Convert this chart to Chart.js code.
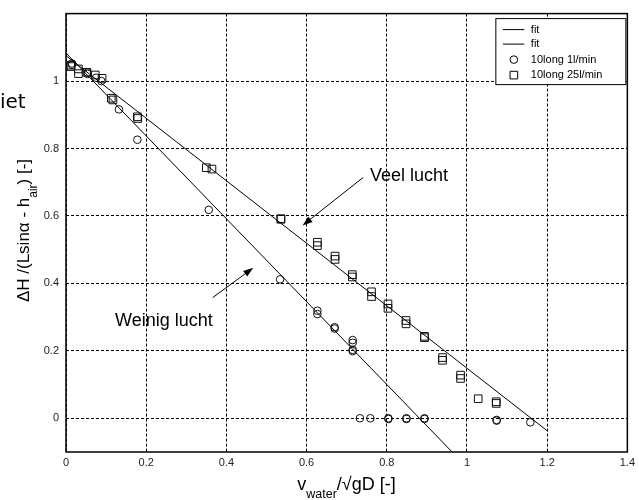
<!DOCTYPE html>
<html>
<head>
<meta charset="utf-8">
<script src="https://cdn.jsdelivr.net/npm/chart.js@4"></script>
<style>
  body { margin: 0; background: #fff; }
  canvas { display: block; }
</style>
</head>
<body>
<canvas id="myChart" width="639" height="500"></canvas>
<script>
// values
var xTicks = [0, 0.2, 0.4, 0.6, 0.8, 1, 1.2, 1.4];
var yTicks = [0, 0.2, 0.4, 0.6, 0.8, 1];

var fitVeelX = [0, 1.2];
var fitVeelY = [1.075, -0.037];
var fitWeinigX = [0, 0.963];
var fitWeinigY = [1.083, -0.1];

var circleX = [0.015, 0.015, 0.054, 0.054, 0.075, 0.088, 0.132, 0.178, 0.356, 0.534,
               0.627, 0.627, 0.670, 0.670, 0.715, 0.715, 0.715, 0.715, 0.733, 0.759,
               0.804, 0.804, 0.849, 0.849, 0.894, 0.894, 1.074, 1.074, 1.158];
var circleY = [1.052, 1.048, 1.025, 1.021, 1.010, 1.000, 0.916, 0.826, 0.618, 0.412,
               0.319, 0.309, 0.270, 0.266, 0.232, 0.224, 0.203, 0.199, 0, 0,
               0, -0.002, 0, -0.002, 0, -0.002, -0.007, -0.005, -0.012];

var squareX = [0.012, 0.012, 0.031, 0.031, 0.052, 0.073, 0.090, 0.113, 0.117, 0.178,
               0.179, 0.350, 0.364, 0.536, 0.536, 0.627, 0.627, 0.671, 0.671, 0.714,
               0.714, 0.762, 0.762, 0.803, 0.803, 0.848, 0.848, 0.894, 0.894, 0.939,
               0.939, 0.984, 0.984, 1.028, 1.073, 1.073];
var squareY = [1.047, 1.043, 1.036, 1.022, 1.026, 1.018, 1.008, 0.949, 0.944, 0.894,
               0.889, 0.743, 0.739, 0.592, 0.590, 0.522, 0.512, 0.481, 0.471, 0.426,
               0.419, 0.375, 0.361, 0.339, 0.326, 0.290, 0.280, 0.243, 0.239, 0.180,
               0.172, 0.128, 0.118, 0.058, 0.049, 0.044];

function pts(xs, ys) {
  return xs.map(function (v, i) { return {x: v, y: ys[i]}; });
}

var FONT = "'Liberation Sans', Arial, sans-serif";

function arrow(ctx, x0, y0, x1, y1) {
  var ang = Math.atan2(y1 - y0, x1 - x0);
  var len = 10, hw = 3.5;
  ctx.beginPath();
  ctx.moveTo(x0, y0);
  ctx.lineTo(x1 - Math.cos(ang) * len * 0.8, y1 - Math.sin(ang) * len * 0.8);
  ctx.stroke();
  ctx.beginPath();
  ctx.moveTo(x1, y1);
  ctx.lineTo(x1 - Math.cos(ang) * len - Math.sin(ang) * hw, y1 - Math.sin(ang) * len + Math.cos(ang) * hw);
  ctx.lineTo(x1 - Math.cos(ang) * len + Math.sin(ang) * hw, y1 - Math.sin(ang) * len - Math.cos(ang) * hw);
  ctx.closePath();
  ctx.fill();
}

var decor = {
  id: 'decor',
  afterDatasetsDraw: function (chart) {
    var ctx = chart.ctx, a = chart.chartArea, x = chart.scales.x, y = chart.scales.y;
    ctx.save();
    // frame
    ctx.strokeStyle = '#000';
    ctx.lineWidth = 1.5;
    ctx.strokeRect(a.left, a.top, a.right - a.left, a.bottom - a.top);

    // annotations
    ctx.lineWidth = 1;
    ctx.fillStyle = '#000';
    ctx.font = '18px ' + FONT;
    ctx.textBaseline = 'middle';
    ctx.textAlign = 'left';
    ctx.fillText('Veel lucht', x.getPixelForValue(0.758), y.getPixelForValue(0.718));
    arrow(ctx, x.getPixelForValue(0.741), y.getPixelForValue(0.714),
               x.getPixelForValue(0.590), y.getPixelForValue(0.572));
    ctx.fillText('Weinig lucht', x.getPixelForValue(0.1225), y.getPixelForValue(0.288));
    arrow(ctx, x.getPixelForValue(0.366), y.getPixelForValue(0.358),
               x.getPixelForValue(0.467), y.getPixelForValue(0.446));

    // legend box
    var bx = a.right - 131.5, by = a.top + 5, bw = 130, bh = 66;
    ctx.fillStyle = '#fff';
    ctx.fillRect(bx, by, bw, bh);
    ctx.strokeStyle = '#000';
    ctx.strokeRect(bx, by, bw, bh);
    var rows = [by + 11, by + 25.5, by + 41, by + 56.5];
    ctx.font = '11px ' + FONT;
    chart.data.datasets.forEach(function (ds, i) {
      var ry = rows[i];
      ctx.strokeStyle = '#000';
      ctx.lineWidth = 1;
      if (ds.showLine) {
        ctx.beginPath();
        ctx.moveTo(bx + 7, ry);
        ctx.lineTo(bx + 28.5, ry);
        ctx.stroke();
      } else {
        ctx.fillStyle = 'rgba(0,0,0,0)';
        Chart.helpers.drawPoint(ctx, {
          pointStyle: ds.pointStyle, radius: ds.pointRadius, borderWidth: 1
        }, bx + 18, ry);
      }
      ctx.fillStyle = '#000';
      ctx.fillText(ds.label, bx + 35, ry);
    });
    ctx.restore();
  },
  afterDraw: function (chart) {
    var ctx = chart.ctx;
    ctx.save();
    ctx.fillStyle = '#000';
    ctx.textBaseline = 'alphabetic';
    ctx.textAlign = 'left';

    // cut-off text at left edge
    ctx.font = '20px "DejaVu Sans", sans-serif';
    ctx.fillText('iet', 0, 108);

    // y-axis title with subscript
    var big = '17px ' + FONT, small = '12px ' + FONT;
    var p1 = '\u0394H /(Lsin\u03b1 - h', p2 = 'air', p3 = ') [-]';
    ctx.font = big; var w1 = ctx.measureText(p1).width, w3 = ctx.measureText(p3).width;
    ctx.font = small; var w2 = ctx.measureText(p2).width;
    var tot = w1 + w2 + w3;
    ctx.translate(29, 230.5);
    ctx.rotate(-Math.PI / 2);
    var sx = -tot / 2;
    ctx.font = big; ctx.fillText(p1, sx, 0);
    ctx.font = small; ctx.fillText(p2, sx + w1, 7.5);
    ctx.font = big; ctx.fillText(p3, sx + w1 + w2, 0);
    ctx.setTransform(1, 0, 0, 1, 0, 0);

    // x-axis title with subscript
    big = '18px ' + FONT; small = '12.5px ' + FONT;
    var q1 = 'v', q2 = 'water', q3 = '/\u221agD [-]';
    ctx.font = big; var v1 = ctx.measureText(q1).width, v3 = ctx.measureText(q3).width;
    ctx.font = small; var v2 = ctx.measureText(q2).width;
    var tx = 346.5 - (v1 + v2 + v3) / 2;
    ctx.font = big; ctx.fillText(q1, tx, 489.5);
    ctx.font = small; ctx.fillText(q2, tx + v1, 497.5);
    ctx.font = big; ctx.fillText(q3, tx + v1 + v2, 489.5);
    ctx.restore();
  }
};

function fmt(v) { return String(Math.round(v * 10) / 10); }

var ctx = document.getElementById('myChart').getContext('2d');
var myChart = new Chart(ctx, {
  type: 'scatter',
  data: {
    datasets: [{
        label: 'fit',
        data: pts(fitVeelX, fitVeelY),
        showLine: true,
        borderColor: '#000',
        borderWidth: 1,
        pointRadius: 0
      }, {
        label: 'fit',
        data: pts(fitWeinigX, fitWeinigY),
        showLine: true,
        borderColor: '#000',
        borderWidth: 1,
        pointRadius: 0
      }, {
        label: '10long 1l/min',
        data: pts(circleX, circleY),
        pointStyle: 'circle',
        pointRadius: 3.8,
        borderColor: '#111',
        backgroundColor: 'rgba(0,0,0,0)',
        borderWidth: 1
      }, {
        label: '10long 25l/min',
        data: pts(squareX, squareY),
        pointStyle: 'rect',
        pointRadius: 5.4,
        borderColor: '#111',
        backgroundColor: 'rgba(0,0,0,0)',
        borderWidth: 1
      }
    ]
  },
  options: {
    responsive: false,
    animation: false,
    devicePixelRatio: 1,
    layout: { padding: { top: 7, right: 9, left: 0, bottom: 0 } },
    plugins: {
      legend: { display: false },
      tooltip: { enabled: false }
    },
    scales: {
      x: {
        type: 'linear',
        min: 0,
        max: 1.4,
        afterBuildTicks: function (s) { s.ticks = xTicks.map(function (v) { return {value: v}; }); },
        afterFit: function (s) { s.height = 48; },
        ticks: {
          autoSkip: false,
          maxRotation: 0,
          padding: 4,
          color: '#222',
          font: { family: FONT, size: 11 },
          callback: fmt
        },
        grid: { color: '#000', lineWidth: 1, drawTicks: false },
        border: { display: false, dash: [3, 2] }
      },
      y: {
        type: 'linear',
        min: -0.1,
        max: 1.2,
        afterBuildTicks: function (s) { s.ticks = yTicks.map(function (v) { return {value: v}; }); },
        afterFit: function (s) { s.width = 66; },
        ticks: {
          autoSkip: false,
          padding: 7,
          color: '#222',
          font: { family: FONT, size: 11 },
          callback: fmt
        },
        grid: { color: '#000', lineWidth: 1, drawTicks: false },
        border: { display: false, dash: [3, 2] }
      }
    }
  },
  plugins: [decor]
});
</script>
</body>
</html>
